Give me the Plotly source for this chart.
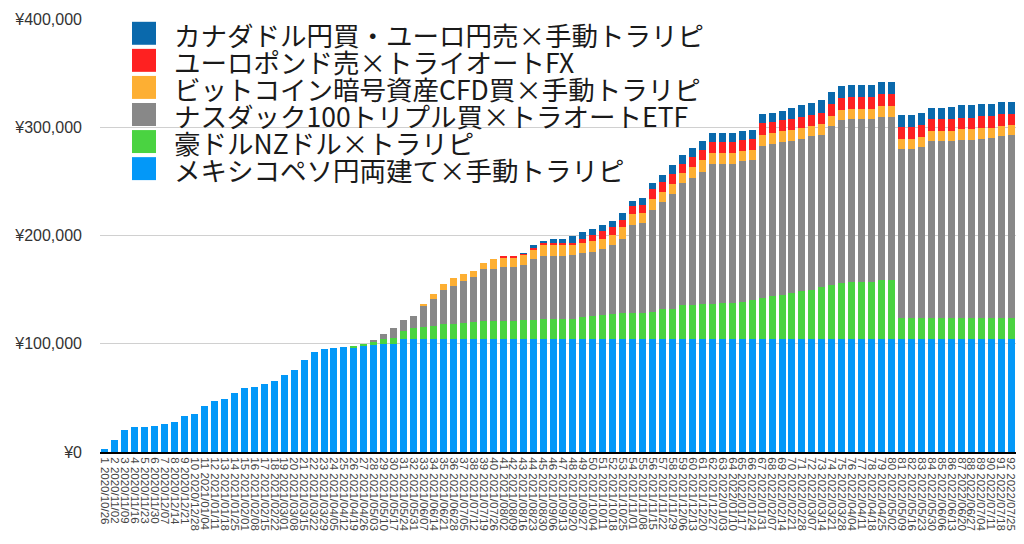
import plotly.graph_objects as go

# week labels (x axis)
weeks = [
    "2020/10/26", "2020/11/02", "2020/11/09", "2020/11/16", "2020/11/23", "2020/11/30",
    "2020/12/07", "2020/12/14", "2020/12/21", "2020/12/28", "2021/01/04", "2021/01/11",
    "2021/01/18", "2021/01/25", "2021/02/01", "2021/02/08", "2021/02/15", "2021/02/22",
    "2021/03/01", "2021/03/08", "2021/03/15", "2021/03/22", "2021/03/29", "2021/04/05",
    "2021/04/12", "2021/04/19", "2021/04/26", "2021/05/03", "2021/05/10", "2021/05/17",
    "2021/05/24", "2021/05/31", "2021/06/07", "2021/06/14", "2021/06/21", "2021/06/28",
    "2021/07/05", "2021/07/12", "2021/07/19", "2021/07/26", "2021/08/02", "2021/08/09",
    "2021/08/16", "2021/08/23", "2021/08/30", "2021/09/06", "2021/09/13", "2021/09/20",
    "2021/09/27", "2021/10/04", "2021/10/11", "2021/10/18", "2021/10/25", "2021/11/01",
    "2021/11/08", "2021/11/15", "2021/11/22", "2021/11/29", "2021/12/06", "2021/12/13",
    "2021/12/20", "2021/12/27", "2022/01/03", "2022/01/10", "2022/01/17", "2022/01/24",
    "2022/01/31", "2022/02/07", "2022/02/14", "2022/02/21", "2022/02/28", "2022/03/07",
    "2022/03/14", "2022/03/21", "2022/03/28", "2022/04/04", "2022/04/11", "2022/04/18",
    "2022/04/25", "2022/05/02", "2022/05/09", "2022/05/16", "2022/05/23", "2022/05/30",
    "2022/06/06", "2022/06/13", "2022/06/20", "2022/06/27", "2022/07/04", "2022/07/11",
    "2022/07/18", "2022/07/25",
]
labels = [f"{i + 1} {w}" for i, w in enumerate(weeks)]

# values per strategy (yen), bottom of stack first
mexico = [
    3000, 11300, 20500, 23000, 23000, 24200, 25500, 27600, 33100, 35000,
    42300, 46900, 49000, 54900, 59200, 60400, 63200, 66000, 71200, 76100,
    84700, 92300, 94800, 96000, 96900, 96900, 98200, 98500, 100000, 100000,
] + [104000] * 62

aud_nzd = [0] * 25 + [
    900, 1500, 3400, 4300, 4900, 7400, 10500, 11700, 12600, 13800,
    13800, 15000, 15700, 16900, 17200, 17200, 17200, 18200, 18200, 18800,
    18800, 18800, 18800, 20600, 21200, 22500, 23100, 24000, 24000, 24600,
    24900, 28000, 28300, 31600, 31600, 32900, 32900, 33800, 33800, 35000,
    36300, 38100, 39900, 41200, 42700, 44500, 46100, 48200, 50400, 52200,
    52800, 53500, 53500, 55000, 55000,
] + [20000] * 12

nasdaq = [0] * 27 + [
    1800, 4600, 9500, 10100, 11300, 20000, 24900, 31700, 36000, 38800,
    41800, 47700, 48000, 49300, 49300, 50100, 56000, 58400, 58400, 58400,
    59400, 59400, 59400, 60900, 64000, 68900, 81500, 83100, 95100, 99400,
    105900, 112500, 117400, 121900, 129300, 128400, 128400, 129700, 129000, 140700,
    141000, 141000, 140400, 140800, 141600, 140700, 147100, 150300, 150600, 150200,
    150200, 150500, 150500, 156300, 156000, 157600, 163100, 163100, 163100, 164300,
    164600, 165300, 165900, 167700, 168600,
]

bitcoin = [0] * 32 + [
    900, 4300, 5500, 6500, 6200, 5500, 5900, 9300, 8900, 8900,
    9900, 8800, 10500, 10500, 9900, 9200, 9500, 10500, 9800, 9200,
    10500, 10800, 9500, 9500, 8900, 9500, 9500, 10100, 10500, 9800,
    9800, 9800, 9500, 9500, 9800, 9900, 10100, 10100, 9800, 9200,
    9900, 9300, 9800, 9500, 9200, 9200, 10100, 10100, 9200, 9500,
    9800, 9200, 9200, 9200, 9800, 9500, 10100, 9800, 9800, 9200,
]

eur_gbp = [0] * 40 + [
    1800, 1800, 800, 1600, 1200, 1800, 2400, 1600, 3700, 5200,
    7100, 7100, 7100, 6500, 7100, 9300, 8900, 9200, 8600, 9200,
    10100, 10800, 10800, 10800, 10100, 10700, 11100, 10400, 10700, 10500,
    10400, 10500, 10400, 11000, 10800, 10800, 10800, 10800, 10800, 10800,
    10500, 10500, 10400, 11100, 11100, 11100, 10800, 10800, 10800, 10800,
    10500, 10800,
]

cad_jpy = [0] * 42 + [
    700, 2400, 1900, 3100, 3100, 6700, 6200, 5500,
    5200, 6100, 6200, 5500, 5900, 5500, 6500, 8000, 8300, 8600,
    8300, 8200, 8200, 8200, 8300, 8000, 8300, 8000, 7700, 10100,
    11400, 11300, 11700, 10800, 11000, 11300, 11300, 11300, 11100, 11100,
    11600, 11600, 11700, 10700, 10700, 11300, 11400, 11400, 11300, 11300,
    11000, 11100,
]

series_names = [
    "メキシコペソ円両建て×手動トラリピ",
    "豪ドルNZドル×トラリピ",
    "ナスダック100トリプル買×トラオートETF",
    "ビットコイン暗号資産CFD買×手動トラリピ",
    "ユーロポンド売×トライオートFX",
    "カナダドル円買・ユーロ円売×手動トラリピ",
]
series_values = [mexico, aud_nzd, nasdaq, bitcoin, eur_gbp, cad_jpy]
colors = ["#0398F8", "#4AD341", "#888888", "#FDAF33", "#FE2121", "#0A69AC"]

fig = go.Figure()
for name, vals, col in zip(series_names, series_values, colors):
    fig.add_trace(go.Bar(x=labels, y=vals, name=name, marker_color=col,
                         marker_line_width=0, showlegend=False))

# the page body has an 8px margin, so the figure is drawn 8px in from the corner
OFF = 8
W, H = 1024 - 2 * OFF, 544 - 2 * OFF
# plot area as it should land on screen
SL, SR, ST, SB = 100, 1016, 19, 452.5
L, R, T, B = SL - OFF, W - (SR - OFF), ST - OFF, H - (SB - OFF)
pw, ph = W - L - R, H - T - B


def px_x(x):
    return (x - OFF - L) / pw


def px_y(y):
    return (SB - y) / ph


# legend: top entry is the top of the stack
row0, step = 33.3, 27.1
for i, (name, col) in enumerate(zip(series_names[::-1], colors[::-1])):
    cy = row0 + i * step
    fig.add_shape(type="rect", xref="paper", yref="paper",
                  x0=px_x(132), x1=px_x(156), y0=px_y(cy + 11.5), y1=px_y(cy - 11.5),
                  fillcolor=col, line_width=0, layer="above")
    fig.add_annotation(xref="paper", yref="paper", x=px_x(172), y=px_y(cy + 1),
                       text=name, showarrow=False, xanchor="left", yanchor="middle",
                       font=dict(family="Noto Sans CJK JP", size=26.5, color="#1a1a1a"))

fig.update_layout(
    width=W, height=H,
    barmode="stack", bargap=0.3,
    margin=dict(l=L, r=R, t=T, b=B, autoexpand=False),
    plot_bgcolor="white", paper_bgcolor="white",
    font=dict(family="Liberation Sans, Arial, sans-serif", color="#333"),
)
fig.update_xaxes(tickmode="array", tickvals=labels, ticktext=labels,
                 tickangle=90, tickfont=dict(size=11.5, color="#444"),
                 showline=True, linecolor="black", linewidth=2, automargin=False,
                 showgrid=False, ticks="", ticklabelstandoff=1)
fig.update_yaxes(range=[0, 400000], dtick=100000, tickprefix="¥", tickformat=",",
                 tickfont=dict(size=16, color="#333"), automargin=False,
                 showgrid=True, gridcolor="#d0d0d0", gridwidth=1,
                 zeroline=False, ticklabelstandoff=17)

fig.write_html("out.html")
